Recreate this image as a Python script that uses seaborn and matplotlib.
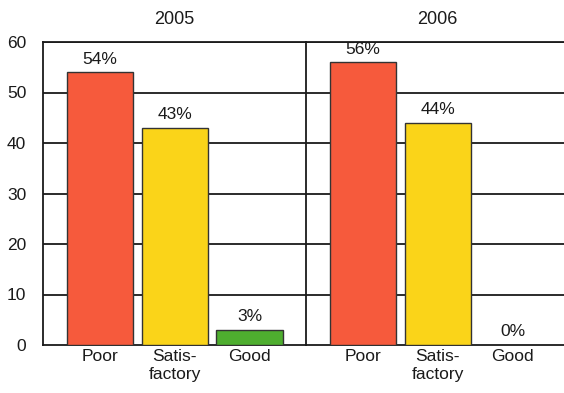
import matplotlib
matplotlib.use("Agg")
import matplotlib.pyplot as plt
import seaborn as sns
import pandas as pd

years = ["2005", "2006"]
categories = ["Poor", "Satis-\nfactory", "Good"]
values_2005 = [54, 43, 3]
values_2006 = [56, 44, 0]
labels_2005 = ["54%", "43%", "3%"]
labels_2006 = ["56%", "44%", "0%"]
colors = ["#F65A3C", "#FAD419", "#4EAE2F"]
yticks = [0, 10, 20, 30, 40, 50, 60]

sns.set_style("white")
plt.rcParams['font.family'] = ['Liberation Sans', 'DejaVu Sans']

fig = plt.figure(figsize=(5.64, 3.93), dpi=100)
ax1 = fig.add_axes([43/564, 1-345/393, 263/564, (345-42)/393])
ax2 = fig.add_axes([306/564, 1-345/393, 263/564, (345-42)/393])

txt = "#1a1a1a"
for ax, year, vals, labs in [(ax1, years[0], values_2005, labels_2005),
                             (ax2, years[1], values_2006, labels_2006)]:
    df = pd.DataFrame({"cat": categories, "val": vals})
    sns.barplot(data=df, x="cat", y="val", hue="cat", palette=colors,
                saturation=1, legend=False, width=0.89, edgecolor="#333333",
                linewidth=1.0, ax=ax, zorder=3)
    ax.set_ylim(0, 60)
    ax.set_xlim(-0.76, 2.75)
    ax.set_yticks(yticks)
    for y in yticks[1:]:
        ax.axhline(y, color="#1a1a1a", lw=1.3, zorder=1)
    for i, (v, l) in enumerate(zip(vals, labs)):
        ax.annotate(l, (i, v), xytext=(0, 4), textcoords="offset points",
                    ha="center", va="bottom", fontsize=12.5, color=txt)
    ax.set_title(year, fontsize=13, pad=13, color=txt)
    ax.set_xlabel("")
    ax.set_ylabel("")
    ax.tick_params(axis="x", length=0, labelsize=12.5, pad=3, colors=txt)
    ax.tick_params(axis="y", length=0, labelsize=12.5, pad=12, colors=txt)
    for t in ax.get_xticklabels():
        t.set_linespacing(1.25)
    for s in ax.spines.values():
        s.set_color("#1a1a1a")
        s.set_linewidth(1.3)
    ax.spines["right"].set_visible(False)

ax2.tick_params(axis="y", labelleft=False)

fig.savefig("out.png", dpi=100)
